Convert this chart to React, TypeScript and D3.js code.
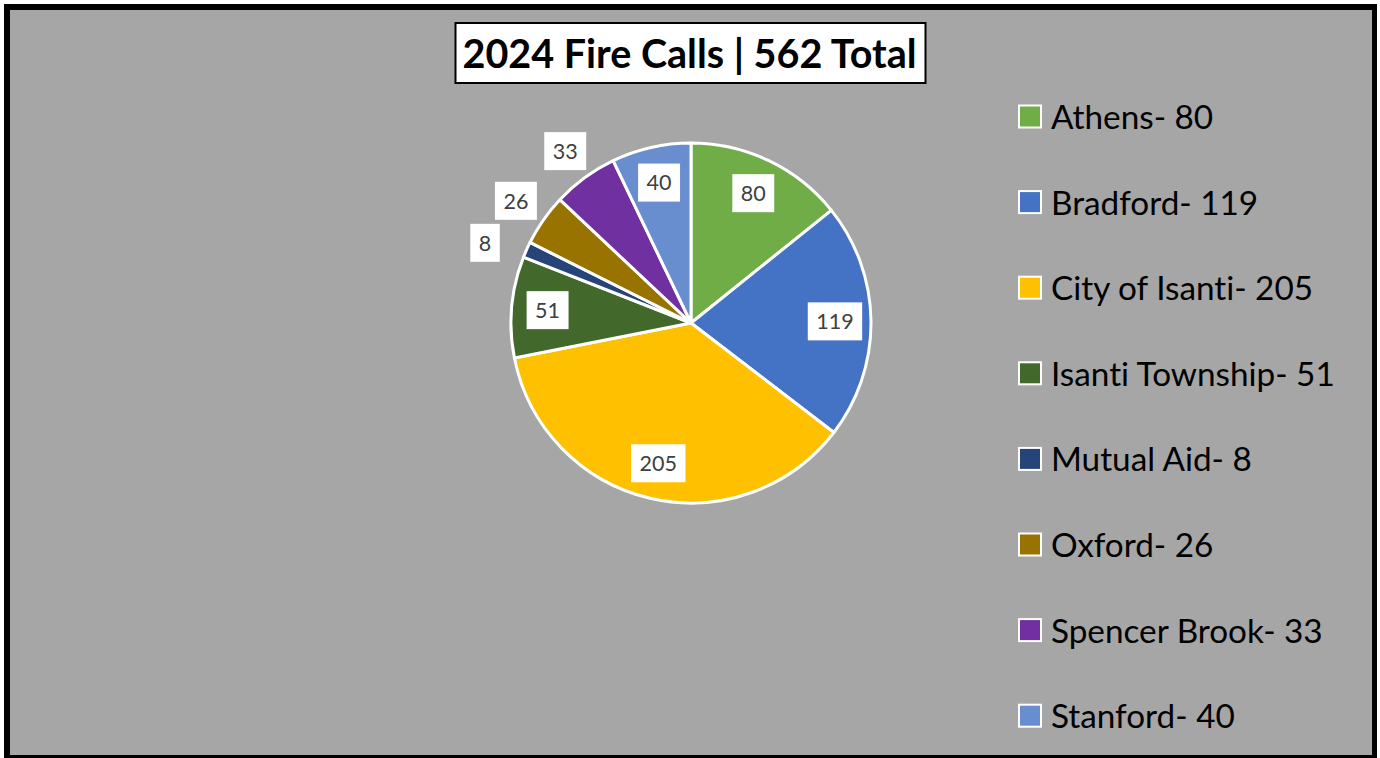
import React from "react";
import * as d3 from "d3";

const categories = ["Athens", "Bradford", "City of Isanti", "Isanti Township", "Mutual Aid", "Oxford", "Spencer Brook", "Stanford"];
const values = [80, 119, 205, 51, 8, 26, 33, 40];
const sliceColors = ["#70ad47", "#4472c4", "#ffc000", "#43682b", "#264478", "#997300", "#7030a0", "#698ed0"];
const titleText = "2024 Fire Calls | 562 Total";

const W = 1380;
const H = 758;
const FONT = "Lato, 'Open Sans', sans-serif";
const noLig: React.CSSProperties = { fontVariantLigatures: "none", fontFeatureSettings: '"liga" 0, "clig" 0' };

type Box = { x: number; y: number; w: number; h: number; ang: number };

export default function App() {
  const cx = 691;
  const cy = 323;
  const r = 180;

  const pie = d3.pie<number>().sort(null).startAngle(0).endAngle(Math.PI * 2);
  const arcs = pie(values);
  const arcGen = d3.arc<d3.PieArcDatum<number>>().innerRadius(0).outerRadius(r);
  const labelArc = d3.arc<d3.PieArcDatum<number>>().innerRadius(r * 0.8).outerRadius(r * 0.8);

  const labelFont = 21.5;
  const digitW = labelFont * 0.58;
  const padX = 8.5;
  const boxH = 38;
  const gap = 4;

  const isInside = (a: d3.PieArcDatum<number>) => a.endAngle - a.startAngle > 0.4;

  const labels: { txt: string; x: number; y: number; w: number; h: number }[] = arcs.map((a, i) => {
    const txt = String(values[i]);
    const w = txt.length * digitW + padX * 2;
    const [lx, ly] = labelArc.centroid(a);
    return { txt, x: lx, y: ly, w, h: boxH };
  });

  // outside labels: placed just outside the circle, resolving collisions
  const placed: Box[] = [];
  arcs
    .map((_, i) => i)
    .reverse()
    .forEach((i) => {
      const a = arcs[i];
      if (isInside(a)) return;
      const { w, h } = labels[i];
      let ang = (a.startAngle + a.endAngle) / 2;
      const nearest = (d: number, an: number) => {
        const bx = d * Math.sin(an), by = -d * Math.cos(an);
        const px = Math.max(bx - w / 2, Math.min(0, bx + w / 2));
        const py = Math.max(by - h / 2, Math.min(0, by + h / 2));
        return Math.hypot(px, py);
      };
      let d = r;
      while (nearest(d, ang) < r + 5) d += 0.5;
      const overlaps = (dd: number, an: number) => {
        const bx = dd * Math.sin(an), by = -dd * Math.cos(an);
        return placed.some(
          (p) => Math.abs(p.x - bx) < (p.w + w) / 2 + gap && Math.abs(p.y - by) < (p.h + h) / 2 + gap
        );
      };
      let guard = 0;
      while (overlaps(d, ang) && guard < 400) {
        const other = placed.find((p) => {
          const bx = d * Math.sin(ang), by = -d * Math.cos(ang);
          return Math.abs(p.x - bx) < (p.w + w) / 2 + gap && Math.abs(p.y - by) < (p.h + h) / 2 + gap;
        });
        const dir = other && other.ang > ang ? -1 : 1;
        d += 0.5;
        ang += dir * 0.0016;
        guard++;
      }
      const x = d * Math.sin(ang), y = -d * Math.cos(ang);
      placed.push({ x, y, w, h, ang });
      labels[i] = { ...labels[i], x, y };
    });

  const legendX = 1018;
  const legendY0 = 117.5;
  const legendStep = 85.6;
  const sq = 24;

  return (
    <svg
      width={W}
      height={H}
      style={{ position: "absolute", left: 0, top: 0, display: "block" }}
      xmlns="http://www.w3.org/2000/svg"
    >
      <rect x={0} y={0} width={W} height={H} fill="#ffffff" />
      <rect x={4} y={4} width={1373} height={H} fill="#000000" />
      <rect x={10} y={10} width={1362} height={745} fill="#a6a6a6" />

      {/* title */}
      <rect x={455.5} y={23} width={470} height={60} fill="#ffffff" stroke="#000000" strokeWidth={2} />
      <text
        x={689.5}
        y={67.5}
        textAnchor="middle"
        fontFamily={FONT}
        fontWeight={700}
        fontSize={39.5}
        fill="#000000"
        style={noLig}
      >
        {titleText}
      </text>

      {/* pie */}
      <g transform={`translate(${cx},${cy})`}>
        {arcs.map((a, i) => (
          <path key={categories[i]} d={arcGen(a) || ""} fill={sliceColors[i]} stroke="#ffffff" strokeWidth={3} strokeLinejoin="round" />
        ))}
        {labels.map((l, i) => (
          <g key={"lbl" + i}>
            <rect x={l.x - l.w / 2} y={l.y - l.h / 2} width={l.w} height={l.h} fill="#ffffff" />
            <text
              x={l.x}
              y={l.y + labelFont * 0.36}
              textAnchor="middle"
              fontFamily={FONT}
              fontSize={labelFont}
              fill="#404040"
              style={noLig}
            >
              {l.txt}
            </text>
          </g>
        ))}
      </g>

      {/* legend */}
      {categories.map((c, i) => {
        const y = legendY0 + i * legendStep;
        return (
          <g key={"leg" + c}>
            <rect x={legendX + 1} y={y - sq / 2} width={sq - 2} height={sq - 2} fill={sliceColors[i]} stroke="#ffffff" strokeWidth={2} />
            <text x={1051} y={y + 11.5} fontFamily={FONT} fontSize={33.3} fill="#000000" style={noLig}>
              {`${c}- ${values[i]}`}
            </text>
          </g>
        );
      })}
    </svg>
  );
}
